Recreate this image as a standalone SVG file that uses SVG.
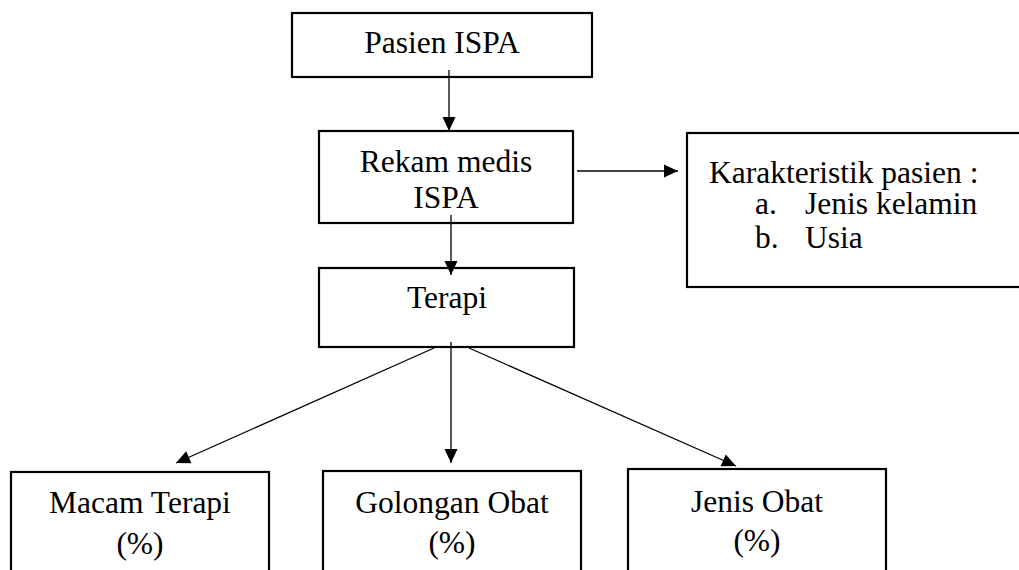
<svg xmlns="http://www.w3.org/2000/svg" width="1019" height="570" viewBox="0 0 1019 570">
<style>
  .box { fill: #fff; stroke: #000; stroke-width: 2.2; }
  .t { font-family: "Liberation Serif", "Times New Roman", serif; font-size: 31.5px; fill: #000; }
  .c { text-anchor: middle; }
  .ln { stroke: #000; stroke-width: 1.3; fill: none; marker-end: url(#ah); }
</style>
<defs>
  <marker id="ah" markerUnits="userSpaceOnUse" markerWidth="16" markerHeight="16" viewBox="0 0 16 16" refX="15" refY="8" orient="auto">
    <path d="M1,1.5 L15,8 L1,14.5 Z" fill="#000"/>
  </marker>
</defs>
<rect width="1019" height="570" fill="#fff"/>
<g id="n-pasien">
  <rect class="box" x="292" y="13" width="300" height="64"/>
  <text class="t c" x="442" y="53">Pasien ISPA</text>
</g>
<g id="n-rekam">
  <rect class="box" x="319" y="131" width="254" height="92"/>
  <text class="t c" x="446" y="172">Rekam medis</text>
  <text class="t c" x="446" y="208">ISPA</text>
</g>
<g id="n-karakteristik">
  <rect class="box" x="687" y="133" width="340" height="154"/>
  <text class="t" x="709" y="183">Karakteristik pasien :</text>
  <text class="t" x="755" y="214">a.</text>
  <text class="t" x="805" y="214">Jenis kelamin</text>
  <text class="t" x="755" y="248">b.</text>
  <text class="t" x="805" y="248">Usia</text>
</g>
<g id="n-terapi">
  <rect class="box" x="319" y="268" width="255" height="79"/>
  <text class="t c" x="447" y="308">Terapi</text>
</g>
<g id="n-macam">
  <rect class="box" x="11" y="472" width="258" height="120"/>
  <text class="t c" x="140" y="513">Macam Terapi</text>
  <text class="t c" x="140" y="554">(%)</text>
</g>
<g id="n-golongan">
  <rect class="box" x="323" y="471" width="258" height="120"/>
  <text class="t c" x="452" y="513">Golongan Obat</text>
  <text class="t c" x="452" y="553">(%)</text>
</g>
<g id="n-jenis">
  <rect class="box" x="628" y="469" width="258" height="120"/>
  <text class="t c" x="757" y="512">Jenis Obat</text>
  <text class="t c" x="757" y="551">(%)</text>
</g>
<g id="connectors">
  <line class="ln" x1="449" y1="70" x2="449" y2="131"/>
  <line class="ln" x1="451" y1="215" x2="451" y2="275"/>
  <line class="ln" x1="577" y1="171" x2="678" y2="171"/>
  <line class="ln" x1="451" y1="342" x2="451" y2="463"/>
  <line class="ln" x1="434" y1="348" x2="176" y2="463"/>
  <line class="ln" x1="469" y1="348" x2="736" y2="466"/>
</g>
</svg>
